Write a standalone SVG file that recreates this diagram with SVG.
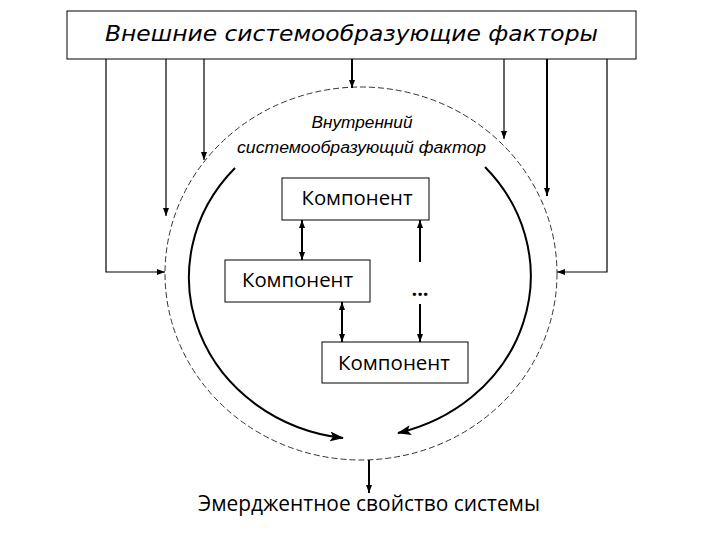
<svg xmlns="http://www.w3.org/2000/svg" width="720" height="540" viewBox="0 0 720 540">
<style>
.box{fill:#fff;stroke:#000;stroke-width:1}
.ln{fill:none;stroke:#000;stroke-width:1.2}
.lnb{fill:none;stroke:#000;stroke-width:2}
.arc{fill:none;stroke:#000;stroke-width:2}
.dash{fill:none;stroke:#000;stroke-width:0.8;stroke-dasharray:6,3}
.comp{font-family:"Open Sans","Liberation Sans",sans-serif;font-size:20px;fill:#000}
.title{font-family:"DejaVu Sans","Liberation Sans",sans-serif;font-style:italic;font-size:22px;fill:#000}
.inner{font-family:"Liberation Sans",sans-serif;font-style:italic;font-size:16px;fill:#000}
.em{font-family:"Open Sans","Liberation Sans",sans-serif;font-size:21px;fill:#000}
</style>
<defs>
<marker id="s" markerUnits="userSpaceOnUse" markerWidth="8" markerHeight="6" refX="8" refY="3" orient="auto-start-reverse">
<path d="M0,0 L8,3 L0,6 z" fill="#000"/>
</marker>
<marker id="b" markerUnits="userSpaceOnUse" markerWidth="14" markerHeight="10" refX="13" refY="5" orient="auto">
<path d="M0,0 L14,5 L0,10 L3,5 z" fill="#000"/>
</marker>
</defs>

<g id="external">
<rect class="box" x="67" y="11" width="569" height="48"/>
<text class="title" x="351.5" y="41" text-anchor="middle" textLength="493" lengthAdjust="spacingAndGlyphs">Внешние системообразующие факторы</text>
</g>

<g id="system-boundary">
<ellipse class="dash" cx="361" cy="273.5" rx="196" ry="186.5"/>
</g>

<g id="internal-factor">
<text class="inner" x="362" y="128" text-anchor="middle" textLength="101" lengthAdjust="spacingAndGlyphs">Внутренний</text>
<text class="inner" x="361.5" y="153" text-anchor="middle" textLength="249" lengthAdjust="spacingAndGlyphs">системообразующий фактор</text>
</g>

<g id="component1">
<rect class="box" x="282" y="178" width="147" height="42"/>
<text class="comp" x="357" y="205" text-anchor="middle" textLength="111" lengthAdjust="spacingAndGlyphs">Компонент</text>
</g>
<g id="component2">
<rect class="box" x="225" y="260" width="145" height="42"/>
<text class="comp" x="297.5" y="287" text-anchor="middle" textLength="111" lengthAdjust="spacingAndGlyphs">Компонент</text>
</g>
<g id="component3">
<rect class="box" x="322" y="342" width="146" height="41"/>
<text class="comp" x="394" y="370" text-anchor="middle" textLength="112" lengthAdjust="spacingAndGlyphs">Компонент</text>
</g>
<g id="ellipsis">
<text class="comp" x="420" y="296" text-anchor="middle" font-weight="bold">...</text>
</g>

<g id="emergent">
<text class="em" x="369" y="511" text-anchor="middle" textLength="342" lengthAdjust="spacingAndGlyphs">Эмерджентное свойство системы</text>
</g>

<g id="connectors">
<polyline class="ln" points="106,59 106,272 165,272" marker-end="url(#s)"/>
<line class="ln" x1="166" y1="59" x2="166" y2="216" marker-end="url(#s)"/>
<line class="ln" x1="204" y1="59" x2="204" y2="160" marker-end="url(#s)"/>
<line class="lnb" x1="352" y1="59" x2="352" y2="88" marker-end="url(#s)"/>
<line class="ln" x1="504" y1="59" x2="504" y2="139" marker-end="url(#s)"/>
<line class="lnb" x1="547" y1="59" x2="547" y2="196" marker-end="url(#s)"/>
<polyline class="ln" points="607,59 607,272 557,272" marker-end="url(#s)"/>
<path class="arc" d="M235,168 A176,162 0 0 0 343,438" marker-end="url(#b)"/>
<path class="arc" d="M485,167 A176,162 0 0 1 398,433" marker-end="url(#b)"/>
<line class="lnb" x1="302" y1="220" x2="302" y2="260" marker-start="url(#s)" marker-end="url(#s)"/>
<line class="lnb" x1="342" y1="302" x2="342" y2="342" marker-start="url(#s)" marker-end="url(#s)"/>
<line class="lnb" x1="420" y1="262" x2="420" y2="220" marker-end="url(#s)"/>
<line class="lnb" x1="420" y1="304" x2="420" y2="342" marker-end="url(#s)"/>
<line class="lnb" x1="369" y1="460" x2="369" y2="493" marker-end="url(#s)"/>
</g>
</svg>
